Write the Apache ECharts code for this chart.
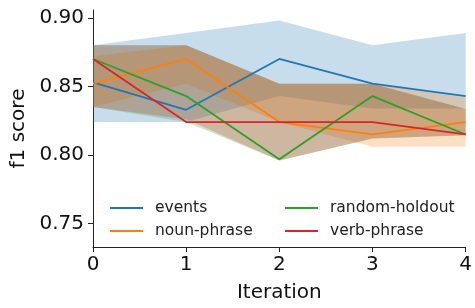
<!DOCTYPE html>
<html>
<head>
<meta charset="utf-8">
<script src="https://cdn.jsdelivr.net/npm/echarts@6/dist/echarts.min.js"></script>
<style>
  html, body { margin: 0; padding: 0; background: #fff; }
  #chart { width: 475px; height: 308px; }
</style>
</head>
<body>
<div id="chart"></div>
<script>
// iterations on the x axis
var iterations = ['0', '1', '2', '3', '4'];
var yTicks = [0.75, 0.80, 0.85, 0.90];

// mean f1 per iteration
var eventsMean  = [0.853, 0.833, 0.870, 0.852, 0.843];
var nounMean    = [0.852, 0.870, 0.824, 0.815, 0.824];
var randomMean  = [0.870, 0.843, 0.797, 0.843, 0.815];
var verbMean    = [0.870, 0.824, 0.824, 0.824, 0.815];

// spread (lower / upper) per iteration
var eventsLo = [0.824, 0.824, 0.843, 0.834, 0.834];
var eventsHi = [0.880, 0.889, 0.898, 0.880, 0.889];
var nounLo   = [0.835, 0.852, 0.824, 0.806, 0.806];
var nounHi   = [0.872, 0.880, 0.852, 0.852, 0.842];
var randomLo = [0.835, 0.824, 0.796, 0.812, 0.8145];
var randomHi = [0.880, 0.880, 0.852, 0.852, 0.8335];
var verbLo   = [0.835, 0.826, 0.796, 0.812, 0.8145];
var verbHi   = [0.880, 0.880, 0.852, 0.852, 0.8335];

var groups = [
  {name: 'events',         color: '#1f77b4', mean: eventsMean, lo: eventsLo, hi: eventsHi},
  {name: 'noun-phrase',    color: '#ff7f0e', mean: nounMean,   lo: nounLo,   hi: nounHi},
  {name: 'random-holdout', color: '#2ca02c', mean: randomMean, lo: randomLo, hi: randomHi},
  {name: 'verb-phrase',    color: '#d62728', mean: verbMean,   lo: verbLo,   hi: verbHi}
];

var font = 'DejaVu Sans';
var series = [];
groups.forEach(function (g) {
  series.push({
    name: g.name + '-lo', type: 'line', stack: g.name + '-band',
    data: g.lo, symbol: 'none', silent: true,
    lineStyle: {opacity: 0}, z: 1
  });
  series.push({
    name: g.name + '-band', type: 'line', stack: g.name + '-band',
    data: g.hi.map(function (v, i) { return +(v - g.lo[i]).toFixed(4); }),
    symbol: 'none', silent: true,
    lineStyle: {opacity: 0},
    areaStyle: {color: g.color, opacity: 0.25}, z: 1
  });
});
groups.forEach(function (g) {
  series.push({
    name: g.name, type: 'line', data: g.mean, symbol: 'none',
    color: g.color, lineStyle: {width: 1.8, color: g.color}, z: 3
  });
});

var legendBase = {
  orient: 'vertical', top: 200, padding: 0, itemWidth: 33, itemHeight: 2, icon: 'rect',
  itemGap: 7,
  textStyle: {fontFamily: font, fontSize: 15.5, color: '#222', padding: [0, 0, 0, 7]}
};

var chart = echarts.init(document.getElementById('chart'), null, {renderer: 'canvas'});
chart.setOption({
  animation: false,
  backgroundColor: '#fff',
  grid: {left: 93, right: 5, top: 10, bottom: 55},
  legend: [
    Object.assign({left: 110, data: ['events', 'noun-phrase']}, legendBase),
    Object.assign({left: 285, data: ['random-holdout', 'verb-phrase']}, legendBase)
  ],
  xAxis: {
    type: 'category', data: iterations, boundaryGap: false,
    name: 'Iteration', nameLocation: 'middle', nameGap: 36,
    nameTextStyle: {fontFamily: font, fontSize: 20, color: '#111'},
    axisLine: {lineStyle: {color: '#222', width: 1}},
    axisTick: {length: 5, lineStyle: {color: '#222'}},
    axisLabel: {fontFamily: font, fontSize: 20, color: '#111', margin: 8},
    splitLine: {show: false}
  },
  yAxis: {
    type: 'value', min: 0.733, max: 0.9057,
    name: 'f1 score', nameLocation: 'middle', nameGap: 62,
    nameTextStyle: {fontFamily: font, fontSize: 20, color: '#111'},
    axisLine: {show: true, lineStyle: {color: '#222', width: 1}},
    axisTick: {show: true, length: 5, customValues: yTicks, lineStyle: {color: '#222'}},
    axisLabel: {
      fontFamily: font, fontSize: 20, color: '#111', margin: 9,
      customValues: yTicks,
      formatter: function (v) { return v.toFixed(2); }
    },
    splitLine: {show: false}
  },
  series: series
});
</script>
</body>
</html>
